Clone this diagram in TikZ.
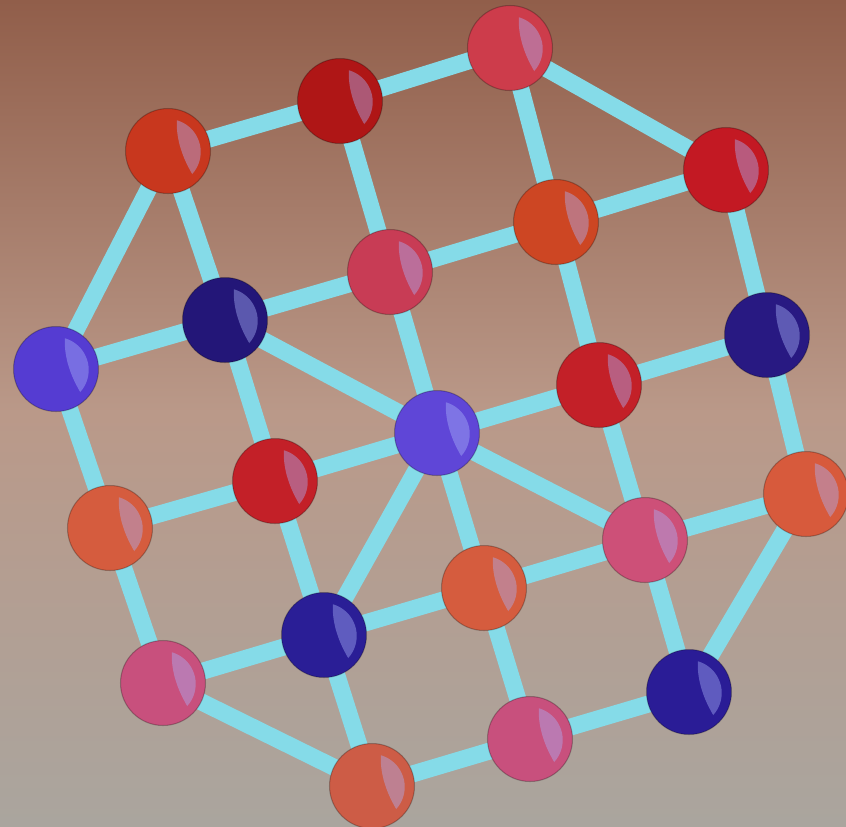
\documentclass[tikz,border=0pt]{standalone}
\usetikzlibrary{calc}
\definecolor{bgtop}{RGB}{145,94,74}
\definecolor{bgmid}{RGB}{186,153,137}
\definecolor{bgbot}{RGB}{170,165,158}
\definecolor{edgec}{RGB}{133,219,232}
\definecolor{cA}{RGB}{200,55,30}
\definecolor{cB}{RGB}{175,22,22}
\definecolor{cC}{RGB}{205,60,75}
\definecolor{cD}{RGB}{195,25,35}
\definecolor{cE}{RGB}{205,70,35}
\definecolor{cF}{RGB}{200,60,85}
\definecolor{cG}{RGB}{35,22,120}
\definecolor{cH}{RGB}{85,60,210}
\definecolor{cI}{RGB}{95,70,215}
\definecolor{cJ}{RGB}{195,32,40}
\definecolor{cK}{RGB}{40,25,130}
\definecolor{cL}{RGB}{215,90,60}
\definecolor{cM}{RGB}{205,80,120}
\definecolor{cN}{RGB}{213,92,62}
\definecolor{cO}{RGB}{195,32,40}
\definecolor{cP}{RGB}{213,92,62}
\definecolor{cQ}{RGB}{42,30,150}
\definecolor{cR}{RGB}{200,80,125}
\definecolor{cS}{RGB}{205,92,70}
\definecolor{cT}{RGB}{200,80,125}
\definecolor{cU}{RGB}{42,28,150}
\definecolor{hlc}{RGB}{170,180,250}
\tikzset{
  ball/.style={circle, minimum size=1.7cm, inner sep=0pt, draw=black, draw opacity=0.25, line width=0.6pt},
  link/.style={draw=edgec, line width=0.34cm},
  hl/.style={fill=hlc, fill opacity=0.42}
}
\begin{document}
\begin{tikzpicture}[x=0.02cm,y=-0.02cm]
\useasboundingbox (0,0) rectangle (846,826);
\shade[top color=bgtop, bottom color=bgbot, middle color=bgmid] (0,0) rectangle (846,826);
% node positions
\coordinate (pA) at (168,151);
\coordinate (pB) at (340,101);
\coordinate (pC) at (510,48);
\coordinate (pD) at (726,170);
\coordinate (pE) at (556,222);
\coordinate (pF) at (390,272);
\coordinate (pG) at (225,320);
\coordinate (pH) at (56,369);
\coordinate (pI) at (437,433);
\coordinate (pJ) at (599,385);
\coordinate (pK) at (767,335);
\coordinate (pL) at (806,494);
\coordinate (pM) at (645,540);
\coordinate (pN) at (484,588);
\coordinate (pO) at (275,481);
\coordinate (pP) at (110,528);
\coordinate (pQ) at (324,635);
\coordinate (pR) at (163,683);
\coordinate (pS) at (372,786);
\coordinate (pT) at (530,739);
\coordinate (pU) at (689,692);
% edges (drawn first, under the balls)
\foreach \a/\b in {A/B,B/C,H/G,G/F,F/E,E/D,P/O,O/I,I/J,J/K,R/Q,Q/N,N/M,M/L,S/T,T/U,
  H/P,P/R,A/G,G/O,O/Q,Q/S,B/F,F/I,I/N,N/T,C/E,E/J,J/M,M/U,D/K,K/L,
  A/H,C/D,L/U,R/S,I/G,I/M,I/Q}
  \draw[link] (p\a) -- (p\b);
% balls
\foreach \n in {A,B,C,D,E,F,G,H,I,J,K,L,M,N,O,P,Q,R,S,T,U}{
  \node[ball, fill=c\n] (\n) at (p\n) {};
  \fill[hl] ($(\n)+(74:0.64cm)$) arc[start angle=74, end angle=-42, radius=0.66cm]
    .. controls ($(\n)+(0.30cm,-0.15cm)$) and ($(\n)+(0.16cm,0.22cm)$) .. ($(\n)+(74:0.64cm)$) -- cycle;
}
\end{tikzpicture}
\end{document}
